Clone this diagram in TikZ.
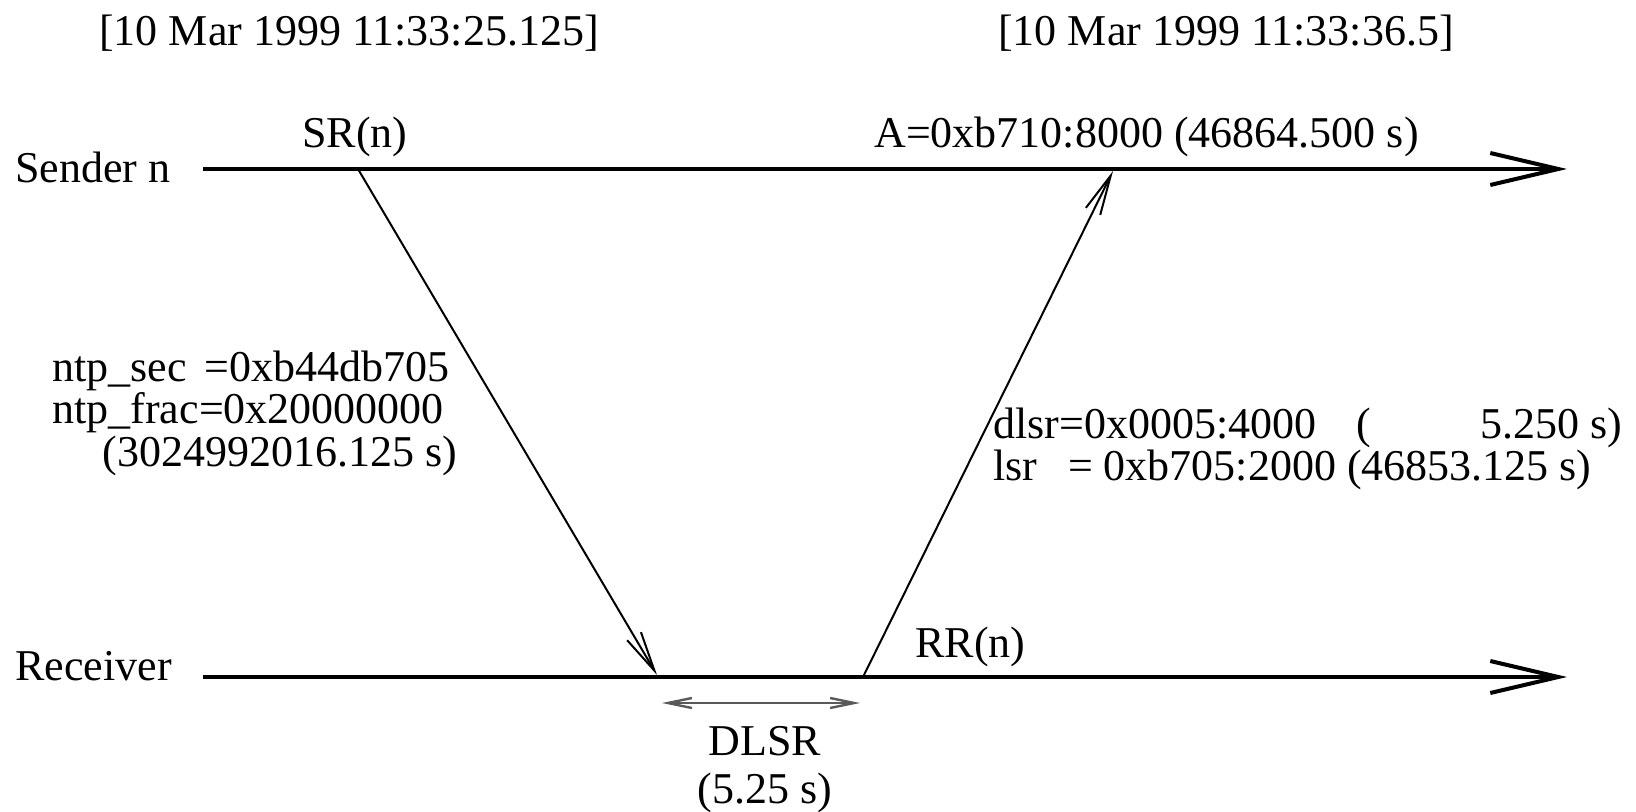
\documentclass[tikz,border=0pt]{standalone}
\usepackage{fontspec}
\setmainfont{Liberation Serif}
\usetikzlibrary{arrows.meta,positioning}

\tikzset{
  lbl/.style={inner sep=0pt,font=\fontsize{22}{21}\selectfont},
  timeline/.style={line width=2pt,-{Straight Barb[length=34pt,width=16pt,line width=2pt]}},
  packet/.style={line width=1pt,-{Straight Barb[length=20pt,width=8pt,line width=1pt]}},
  span/.style={line width=1.2pt,black!65,{Straight Barb[length=12pt,width=5pt]}-{Straight Barb[length=12pt,width=5pt]}}
}

\begin{document}
\begin{tikzpicture}[x=0.5pt,y=-0.5pt]
        \useasboundingbox (0,0) rectangle (1636,812);
        % time stamps
        \node[lbl,anchor=base] (tsend) at (349,46) {[10 Mar 1999 11:33:25.125]};
        \node[lbl,anchor=base] (trecv) at (1226,46) {[10 Mar 1999 11:33:36.5]};
        % the two time lines
        \node[lbl,anchor=base west] (sender) at (15,183) {Sender n};
        \node[lbl,anchor=base west] (receiver) at (15,680) {Receiver};
        \coordinate (s0) at (203,169);
        \coordinate (s1) at (1567,169);
        \coordinate (r0) at (203,677);
        \coordinate (r1) at (1567,677);
        \draw[timeline] (s0) -- (s1);
        \draw[timeline] (r0) -- (r1);
        % SR goes down, RR comes back
        \coordinate (srout) at (358,169);
        \coordinate (srin) at (657,675);
        \coordinate (rrout) at (863,677);
        \coordinate (rrin) at (1113,171);
        \draw[packet] (srout) -- (srin);
        \draw[packet] (rrout) -- (rrin);
        \node[lbl,anchor=base] (sr) at (355,148) {SR(n)};
        \node[lbl,anchor=base west] (arr) at (874,148) {A=0xb710:8000 (46864.500 s)};
        \node[lbl,anchor=base west] (rr) at (915,657) {RR(n)};
        % fields of SR
        \node[lbl,anchor=base west] (ntpsec) at (52,381) {ntp\_sec\hspace{0.15em} =0xb44db705};
        \node[lbl,anchor=base west] (ntpfrac) at (52,423) {ntp\_frac=0x20000000};
        \node[lbl,anchor=base west] (ntpsum) at (102,466) {(3024992016.125 s)};
        % fields of RR
        \node[lbl,anchor=base west] (dlsr) at (993,438) {dlsr=0x0005:4000\hspace{0.9em}(\hspace{2.5em}5.250 s)};
        \node[lbl,anchor=base west] (lsr) at (993,480) {lsr\hspace{0.7em}= 0xb705:2000 (46853.125 s)};
        % delay since last SR
        \coordinate (d0) at (662,703);
        \coordinate (d1) at (860,703);
        \draw[span] (d0) -- (d1);
        \node[lbl,anchor=base] (dlsrname) at (765,755) {DLSR};
        \node[lbl,anchor=base] (dlsrval) at (765,803) {(5.25 s)};
\end{tikzpicture}
\end{document}
